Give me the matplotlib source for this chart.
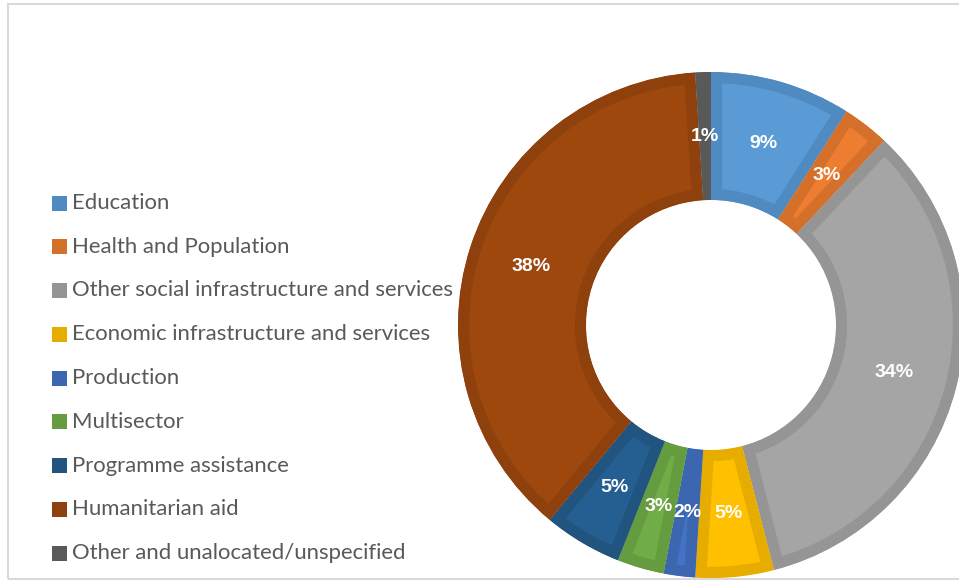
import matplotlib.pyplot as plt
from matplotlib.patches import Rectangle, Wedge

plt.rcParams['font.family'] = ['Lato', 'DejaVu Sans']

# Data
sectors = ['Education', 'Health and Population', 'Other social infrastructure and services',
           'Economic infrastructure and services', 'Production', 'Multisector',
           'Programme assistance', 'Humanitarian aid', 'Other and unalocated/unspecified']
shares = [9, 3, 34, 5, 2, 3, 5, 38, 1]
fill_colors = ['#5B9BD5', '#ED7D31', '#A5A5A5', '#FFC000', '#4472C4',
               '#70AD47', '#255E91', '#9E480E', '#636363']
edge_colors = ['#4F8AC1', '#D5702B', '#959595', '#E6AD00', '#3D66B0',
               '#659C40', '#21547F', '#8E410C', '#595959']

W, H = 959, 581
fig = plt.figure(figsize=(W / 100, H / 100), dpi=100)
ax = fig.add_axes([0, 0, 1, 1])

# donut
cx, cy = 711, H - 325
R, r_in = 253, 125
wedges, texts, autotexts = ax.pie(
    shares, colors=fill_colors, startangle=90, counterclock=False,
    center=(cx, cy), radius=R, frame=True,
    wedgeprops=dict(width=R - r_in, linewidth=0),
    autopct=lambda p: f'{p:.0f}%', pctdistance=(R + r_in) / 2 / R,
    textprops=dict(color='white', fontsize=14, fontweight='bold',
                   family='Liberation Sans'))
ax.set_xlim(0, W)
ax.set_ylim(0, H)
ax.set_aspect('equal')
ax.axis('off')

# darker inner border on each segment (stroke clipped to the wedge shape)
for w, ec in zip(wedges, edge_colors):
    clip = Wedge(w.center, w.r, w.theta1, w.theta2, width=w.width, transform=ax.transData)
    w.set_edgecolor(ec)
    w.set_linewidth(16)
    w.set_clip_path(clip)
    w.set_clip_on(True)
for t in autotexts:
    t.set_zorder(5)

# outer frame of the chart area
ax.add_patch(Rectangle((8, H - 579), 1000, 575, fill=False, edgecolor='#D9D9D9', lw=1.5,
                       clip_on=False))

# legend
for i, (name, col) in enumerate(zip(sectors, edge_colors)):
    y = H - (203 + i * 43.75)
    ax.add_patch(Rectangle((52, y - 7.5), 15, 15, facecolor=col, edgecolor='none'))
    ax.text(72, y, name, fontsize=15.9, color='#595959', va='center', ha='left')

fig.savefig('out.png', dpi=100)
